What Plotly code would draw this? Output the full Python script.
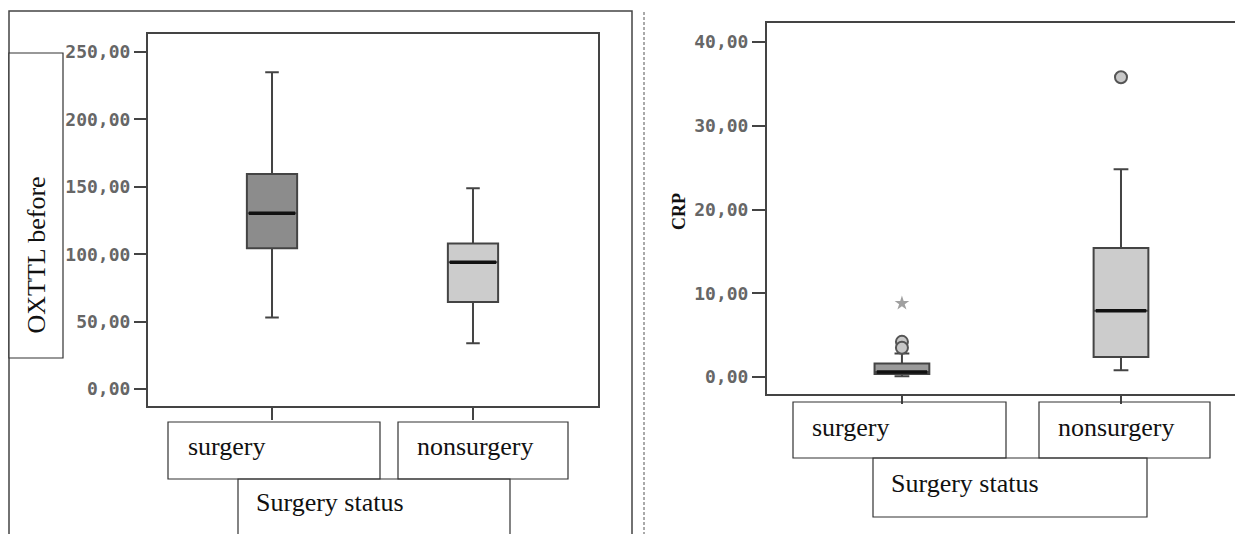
import plotly.graph_objects as go

# ---------------- data ----------------
categories = ["surgery", "nonsurgery"]
axis_title_x = "Surgery status"

oxttl_title = "OXTTL before"
oxttl_lower = [53.0, 34.0]
oxttl_q1 = [104.5, 64.5]
oxttl_median = [130.5, 94.0]
oxttl_q3 = [159.5, 108.0]
oxttl_upper = [235.0, 149.0]
oxttl_ticks = [0, 50, 100, 150, 200, 250]

crp_title = "CRP"
crp_lower = [0.1, 0.8]
crp_q1 = [0.35, 2.4]
crp_median = [0.6, 7.9]
crp_q3 = [1.6, 15.4]
crp_upper = [2.8, 24.8]
crp_outliers = [[4.2, 3.5], [35.8]]
crp_extremes = [[8.8], []]
crp_ticks = [0, 10, 20, 30, 40]

# ---------------- styling ----------------
OFF = 8  # page body margin
W, H = 1243 - OFF, 534 - OFF
def px(x):
    return (x - OFF) / W
def py(y):
    return 1 - (y - OFF) / H

BOX_W = 0.25
LINE = "#444444"
TICKFONT = dict(family="DejaVu Sans Mono", size=18, color="#666666", weight="bold")
SERIF = dict(family="Liberation Serif", size=26, color="#111111")
oxttl_fill = ["#8c8c8c", "#cccccc"]
crp_fill = ["#9a9a9a", "#cccccc"]

def fmt(v):
    return f"{v:.2f}".replace(".", ",")

fig = go.Figure()

def add_boxes(xa, ya, lower, q1, med, q3, upper, fills):
    for i, cat in enumerate(categories):
        fig.add_trace(go.Box(
            x=[i], q1=[q1[i]], median=[med[i]], q3=[q3[i]],
            lowerfence=[lower[i]], upperfence=[upper[i]],
            width=BOX_W, whiskerwidth=0.27, fillcolor=fills[i],
            line=dict(color=LINE, width=2), boxpoints=False,
            name=cat, showlegend=False, xaxis=xa, yaxis=ya, hoverinfo="skip"))
        fig.add_trace(go.Scatter(
            x=[i - BOX_W / 2 + 0.01, i + BOX_W / 2 - 0.01], y=[med[i], med[i]],
            mode="lines", line=dict(color="#111111", width=3.5),
            showlegend=False, xaxis=xa, yaxis=ya, hoverinfo="skip"))

add_boxes("x", "y", oxttl_lower, oxttl_q1, oxttl_median, oxttl_q3, oxttl_upper, oxttl_fill)
add_boxes("x2", "y2", crp_lower, crp_q1, crp_median, crp_q3, crp_upper, crp_fill)

for i, vals in enumerate(crp_outliers):
    if vals:
        fig.add_trace(go.Scatter(
            x=[i] * len(vals), y=vals, mode="markers",
            marker=dict(symbol="circle", size=12, color="#c8c8c8",
                        line=dict(color="#555555", width=2)),
            showlegend=False, xaxis="x2", yaxis="y2", hoverinfo="skip"))
for i, vals in enumerate(crp_extremes):
    if vals:
        fig.add_trace(go.Scatter(
            x=[i] * len(vals), y=vals, mode="markers",
            marker=dict(symbol="star", size=11, color="#a0a0a0"),
            showlegend=False, xaxis="x2", yaxis="y2", hoverinfo="skip"))

common_x = dict(showline=True, linecolor=LINE, linewidth=2, ticks="outside",
                tickwidth=2, tickcolor=LINE, tickvals=[0, 1],
                showticklabels=False, showgrid=False, zeroline=False)
common_y = dict(showline=True, linecolor=LINE, linewidth=2, ticks="outside",
                tickwidth=2, tickcolor=LINE, tickfont=TICKFONT,
                showgrid=False, zeroline=False)

fig.update_layout(
    width=W, height=H,
    margin=dict(l=0, r=0, t=0, b=0),
    paper_bgcolor="white", plot_bgcolor="white",
    showlegend=False,
    xaxis=dict(domain=[px(148), px(598)], range=[-0.617, 1.622], mirror=True,
               ticklen=12, anchor="y", **common_x),
    yaxis=dict(domain=[py(406), py(34)], range=[-12.6, 263.4], mirror=True,
               ticklen=12, tickvals=oxttl_ticks,
               ticktext=[fmt(v) for v in oxttl_ticks], anchor="x", **common_y),
    xaxis2=dict(domain=[px(767), 1.0], range=[-0.616, 1.557], mirror=True,
                ticklen=8, anchor="y2", **common_x),
    yaxis2=dict(domain=[py(394), py(23)], range=[-2.03, 42.27], mirror=False,
                ticklen=13, tickvals=crp_ticks,
                ticktext=[fmt(v) for v in crp_ticks], anchor="x2", **common_y),
)

shapes = []
def rect(x0, y0, x1, y1, fill="rgba(0,0,0,0)", width=1.2, color="#333333", layer="above"):
    shapes.append(dict(type="rect", xref="paper", yref="paper",
                       x0=px(x0), x1=px(x1), y0=py(y1), y1=py(y0),
                       line=dict(color=color, width=width), fillcolor=fill, layer=layer))

# outer frame of left panel
rect(9, 11, 632, 560, width=1.5, color="#444444", layer="below")
# y-title box (left)
rect(9, 53, 63, 358, fill="white")
# category label boxes (left)
rect(168, 422, 380, 479)
rect(398, 422, 568, 479)
rect(238, 479, 510, 560)
# category label boxes (right)
rect(793, 402, 1006, 458)
rect(1039, 402, 1210, 458)
rect(873, 458, 1147, 517)
# dashed divider
shapes.append(dict(type="line", xref="paper", yref="paper",
                   x0=px(644), x1=px(644), y0=py(12), y1=py(540),
                   line=dict(color="#555555", width=1, dash="3px,2px")))
fig.update_layout(shapes=shapes)

ann = []
def label(text, x, y, font=SERIF, xanchor="left", angle=0):
    ann.append(dict(text=text, x=px(x), y=py(y), xref="paper", yref="paper",
                    xanchor=xanchor, yanchor="middle", showarrow=False,
                    font=font, textangle=angle))

label(oxttl_title, 36.5, 255, xanchor="center", angle=-90)
label("<b>" + crp_title + "</b>", 679, 212,
      font=dict(family="Liberation Serif", size=18, color="#111111"),
      xanchor="center", angle=-90)
# left category labels
label(categories[0], 186, 446)
label(categories[1], 415, 446)
label(axis_title_x, 254, 502)
# right category labels
label(categories[0], 810, 427)
label(categories[1], 1056, 427)
label(axis_title_x, 889, 483)
fig.update_layout(annotations=ann)

fig.write_html("out.html")
